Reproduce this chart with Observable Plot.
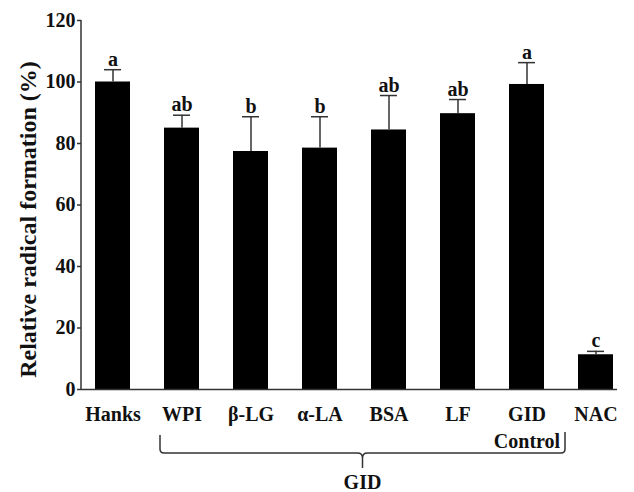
<!DOCTYPE html>
<html><head><meta charset="utf-8">
<script src="https://cdn.jsdelivr.net/npm/d3@7"></script>
<script src="https://cdn.jsdelivr.net/npm/@observablehq/plot@0.6"></script>
<style>body{margin:0;background:#fff}</style>
</head><body><div id="chart"></div>
<script>
const categories = ["Hanks","WPI","β-LG","α-LA","BSA","LF","GID Control","NAC"];
const tickLabels = ["Hanks","WPI","β-LG","α-LA","BSA","LF","GID\nControl","NAC"];
const means = [100, 85.0, 77.4, 78.5, 84.4, 89.7, 99.2, 11.3];
const errors = [4.0, 4.2, 11.3, 10.2, 11.2, 4.6, 7.1, 1.1];
const letters = ["a","ab","b","b","ab","ab","a","c"];
const yTicks = [0,20,40,60,80,100,120];
const yTitle = "Relative radical formation (%)";
const groupLabel = "GID";
const groupFrom = "WPI", groupTo = "GID Control";

const data = categories.map((c,i)=>({cat:c, label:tickLabels[i], mean:means[i], err:errors[i], top:means[i]+errors[i], letter:letters[i]}));
const FONT = "Liberation Serif, Times New Roman, serif";
const AX = "#333";
const FS = 20;

const yAxisLine = (index, {y}, values, dims) => {
  const l = dims.marginLeft;
  const g = d3.create("svg:g");
  g.append("line").attr("x1", l).attr("x2", l)
    .attr("y1", y(120)).attr("y2", y(0)).attr("stroke", AX).attr("stroke-width", 1.5);
  const cy = (y(0) + y(120)) / 2 + 15;
  g.append("text")
    .attr("transform", `translate(28,${cy}) rotate(-90)`)
    .attr("text-anchor", "middle").attr("dy", "0.32em")
    .attr("font-family", FONT).attr("font-weight", "bold").attr("font-size", 24)
    .attr("fill", "#111").text(yTitle);
  return g.node();
};

const brace = (index, {x}, values, dims) => {
  const L = x(groupFrom) - 4;
  const R = x(groupTo) + x.bandwidth() + 21;
  const M = (L + R) / 2;
  const yb = 453;
  const g = d3.create("svg:g");
  g.append("path")
    .attr("d", `M${L},435 V449 Q${L},${yb} ${L+4},${yb} H${M-5} Q${M},${yb} ${M},${yb+5} V468 M${M},${yb+5} Q${M},${yb} ${M+5},${yb} H${R-4} Q${R},${yb} ${R},449 V432`)
    .attr("fill", "none").attr("stroke", AX).attr("stroke-width", 1.5);
  g.append("text").attr("x", M).attr("y", 489).attr("text-anchor", "middle")
    .attr("font-family", FONT).attr("font-weight", "bold").attr("font-size", FS)
    .attr("fill", "#111").text(groupLabel);
  return g.node();
};

const chart = Plot.plot({
  width: 634, height: 492,
  marginLeft: 81, marginRight: 17, marginTop: 20, marginBottom: 103,
  style: {fontFamily: FONT, fontSize: FS + "px", fontWeight: "bold", color: "#111", background: "#fff"},
  x: {type: "band", domain: categories, range: [92, 616], paddingInner: 0.5, paddingOuter: 0, axis: null},
  y: {domain: [0, 120], axis: null},
  marks: [
    Plot.barY(data, {x: "cat", y: "mean", fill: "black"}),
    Plot.ruleX(data, {x: "cat", y1: "mean", y2: "top", stroke: AX, strokeWidth: 1.5}),
    Plot.tickY(data, {x: "cat", y: "top", stroke: AX, strokeWidth: 1.5, insetLeft: 9, insetRight: 9}),
    Plot.text(data, {x: "cat", y: "top", text: "letter", lineAnchor: "bottom", dy: -4, fontSize: FS, fontWeight: "bold", fill: "#111"}),
    Plot.ruleY([0], {stroke: AX, strokeWidth: 1.5}),
    yAxisLine,
    Plot.axisY(yTicks, {tickSize: 4, tickFormat: () => "", stroke: AX, strokeWidth: 1.5}),
    Plot.text(yTicks, {y: d => d, frameAnchor: "left", textAnchor: "end", lineAnchor: "middle", dx: -6, text: d => String(d), fontSize: FS, fontWeight: "bold", fill: "#111"}),
    Plot.text(data, {x: "cat", y: 0, text: "label", lineAnchor: "top", dy: 12, lineHeight: 1.35, fontSize: FS, fontWeight: "bold", fill: "#111"}),
    brace
  ]
});
document.getElementById("chart").appendChild(chart);
</script>
</body></html>
